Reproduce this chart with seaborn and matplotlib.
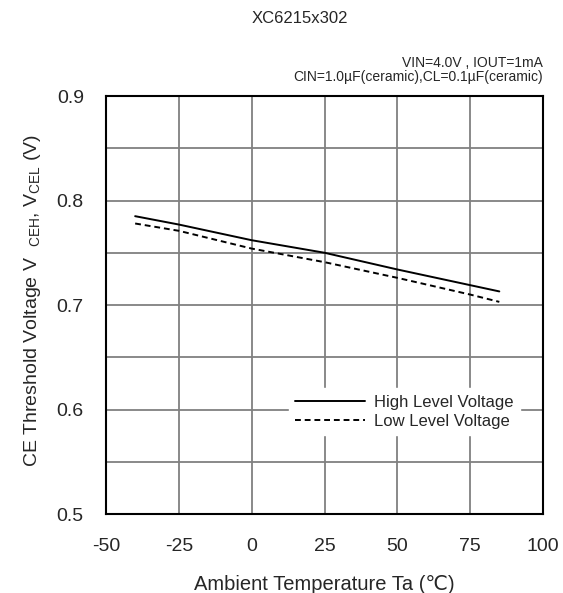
import matplotlib
matplotlib.use("Agg")
import matplotlib.pyplot as plt
import seaborn as sns
import pandas as pd

temps = [-40, -25, 0, 25, 50, 75, 85]
high_v = [0.785, 0.777, 0.762, 0.750, 0.734, 0.719, 0.713]
low_v = [0.778, 0.771, 0.754, 0.741, 0.726, 0.710, 0.703]
series = ["High Level Voltage", "Low Level Voltage"]
xticks = [-50, -25, 0, 25, 50, 75, 100]
yticks = [0.5, 0.6, 0.7, 0.8, 0.9]

data = pd.DataFrame({
	"temp": temps * 2,
	"volt": high_v + low_v,
	"kind": [series[0]] * len(temps) + [series[1]] * len(temps),
})

sns.set_style("white")
plt.rcParams["font.family"] = ["Liberation Sans", "DejaVu Sans"]
plt.rcParams["mathtext.fontset"] = "custom"
plt.rcParams["mathtext.rm"] = "Liberation Sans"

fig = plt.figure(figsize=(5.63, 5.93), dpi=100)
ax = fig.add_axes([0.1883, 0.1332, 0.7762, 0.7049])

sns.lineplot(data=data, x="temp", y="volt", hue="kind", style="kind",
			 palette=["black", "black"], dashes={series[0]: "", series[1]: (3, 2)},
			 linewidth=1.4, ax=ax, zorder=3)

ax.set_xlim(-50, 100)
ax.set_ylim(0.5, 0.9)
ax.set_xticks(xticks)
ax.set_yticks(yticks)
ax.set_yticks([0.55, 0.65, 0.75, 0.85], minor=True)
ax.set_xticklabels([str(t) for t in xticks], fontsize=14)
ax.set_yticklabels(["%.1f" % t for t in yticks], fontsize=14)
ax.grid(True, which="both", color="#808080", linewidth=1.3)
ax.tick_params(which="both", direction="in", length=4, color="#404040")
ax.tick_params(axis="x", pad=17)
ax.tick_params(axis="y", pad=16)
for s in ax.spines.values():
	s.set_color("black")
	s.set_linewidth(1.5)

ax.set_xlabel("Ambient Temperature Ta (\u2103)", fontsize=14.5)
ax.xaxis.set_label_coords(0.5, -0.146)
ax.set_ylabel("CE Threshold Voltage V  $_{\\mathregular{CEH}}$, V$_{\\mathregular{CEL}}$ (V)",
			  fontsize=14)
ax.yaxis.set_label_coords(-0.144, 0.51)

leg = ax.legend(loc="lower right", bbox_to_anchor=(0.947, 0.188), handlelength=4.15,
				fontsize=12, frameon=True, fancybox=False, framealpha=1,
				borderpad=0.4, labelspacing=0.25, handletextpad=0.55,
				borderaxespad=0)
leg.get_frame().set_edgecolor("white")
leg.get_frame().set_facecolor("white")

fig.text(0.533, 0.968, "XC6215x302", ha="center", va="center", fontsize=12)
fig.text(0.964, 0.893, "VIN=4.0V , IOUT=1mA", ha="right", va="center", fontsize=10)
fig.text(0.964, 0.870, "CIN=1.0\u00b5F(ceramic),CL=0.1\u00b5F(ceramic)", ha="right", va="center", fontsize=10)

fig.savefig("out.png", dpi=100)
